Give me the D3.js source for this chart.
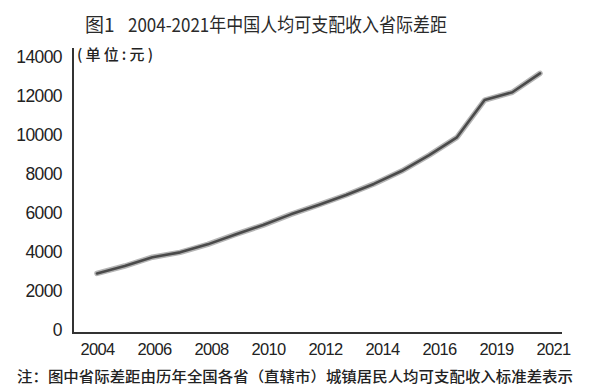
<!DOCTYPE html>
<html>
<head>
<meta charset="utf-8">
<script src="https://cdn.jsdelivr.net/npm/d3@7"></script>
<style>
  html, body { margin: 0; padding: 0; background: #fff; }
  svg { display: block; }
</style>
</head>
<body>
<svg id="chart" width="591" height="389"></svg>
<script>
// ---- data ----
const years = ["2004","2005","2006","2007","2008","2009","2010","2011","2012","2013","2014","2015","2016","2017","2019","2020","2021"];
const gapValues = [2850, 3230, 3680, 3930, 4340, 4850, 5330, 5880, 6360, 6870, 7440, 8100, 8920, 9830, 11740, 12140, 13110];
const xTickLabels = ["2004","2006","2008","2010","2012","2014","2016","2019","2021"];
const yTickValues = [0, 2000, 4000, 6000, 8000, 10000, 12000, 14000];
const titleLabel = "图1";
const titleText = "2004-2021年中国人均可支配收入省际差距";
const unitText = "(单位:元)";
const noteText = "注：图中省际差距由历年全国各省（直辖市）城镇居民人均可支配收入标准差表示";

// ---- scales ----
const svg = d3.select("#chart");
const y = d3.scaleLinear().domain([0, 14000]).range([329, 56]);
const xLine = d3.scalePoint().domain(years).range([97, 540]);
const xLabel = d3.scalePoint().domain(years).range([97, 553]);

// ---- axis lines ----
svg.append("line").attr("x1", 73).attr("x2", 73).attr("y1", 48).attr("y2", 334)
  .attr("stroke", "#333").attr("stroke-width", 2);
svg.append("line").attr("x1", 72).attr("x2", 562).attr("y1", 333).attr("y2", 333)
  .attr("stroke", "#333").attr("stroke-width", 2);

// ---- y axis labels ----
const yAxis = d3.axisLeft(y).tickValues(yTickValues).tickSize(0).tickPadding(0).tickFormat(d3.format("d"));
const gy = svg.append("g").attr("transform", "translate(62,0)").call(yAxis);
gy.select(".domain").remove();
gy.selectAll("text")
  .attr("font-family", "'Liberation Sans', Arial, sans-serif")
  .attr("font-size", 17.5).attr("fill", "#222").attr("letter-spacing", "-0.6")
  .attr("dy", "0.36em");

// ---- x axis labels ----
const xAxis = d3.axisBottom(xLabel).tickValues(xTickLabels).tickSize(0).tickPadding(0);
const gx = svg.append("g").attr("transform", "translate(0,343)").call(xAxis);
gx.select(".domain").remove();
gx.selectAll("text")
  .attr("font-family", "'Liberation Sans', Arial, sans-serif")
  .attr("font-size", 16.5).attr("fill", "#222").attr("letter-spacing", "-0.7")
  .attr("dy", "0.75em");

// ---- line ----
const line = d3.line().x((d, i) => xLine(years[i])).y(d => y(d));
svg.append("path").datum(gapValues).attr("d", line)
  .attr("fill", "none").attr("stroke", "#b5b5b5").attr("stroke-width", 5.5)
  .attr("stroke-linejoin", "round").attr("stroke-linecap", "round");
svg.append("path").datum(gapValues).attr("d", line)
  .attr("fill", "none").attr("stroke", "#4a4a4a").attr("stroke-width", 2.6)
  .attr("stroke-linejoin", "round").attr("stroke-linecap", "round");

// ---- title ----
svg.append("text").attr("x", 85).attr("y", 32).text(titleLabel)
  .attr("font-family", "'Noto Sans CJK SC', sans-serif").attr("font-size", 19)
  .attr("font-weight", 400).attr("fill", "#2a2a2a");
svg.append("text").attr("x", 128).attr("y", 32).text(titleText)
  .attr("font-family", "'Noto Sans CJK SC', sans-serif").attr("font-size", 19)
  .attr("font-weight", 400).attr("fill", "#2a2a2a")
  .attr("textLength", 319).attr("lengthAdjust", "spacingAndGlyphs");

// ---- unit ----
svg.append("text").attr("x", 77).attr("y", 60).text(unitText)
  .attr("font-family", "'Noto Sans CJK SC', sans-serif").attr("font-size", 15)
  .attr("font-weight", 500).attr("fill", "#222").attr("textLength", 76).attr("lengthAdjust", "spacing");

// ---- note ----
svg.append("text").attr("x", 17).attr("y", 382).text(noteText)
  .attr("font-family", "'Noto Sans CJK SC', sans-serif").attr("font-size", 14.5)
  .attr("font-weight", 500).attr("fill", "#222")
  .attr("textLength", 556).attr("lengthAdjust", "spacingAndGlyphs");
</script>
</body>
</html>
